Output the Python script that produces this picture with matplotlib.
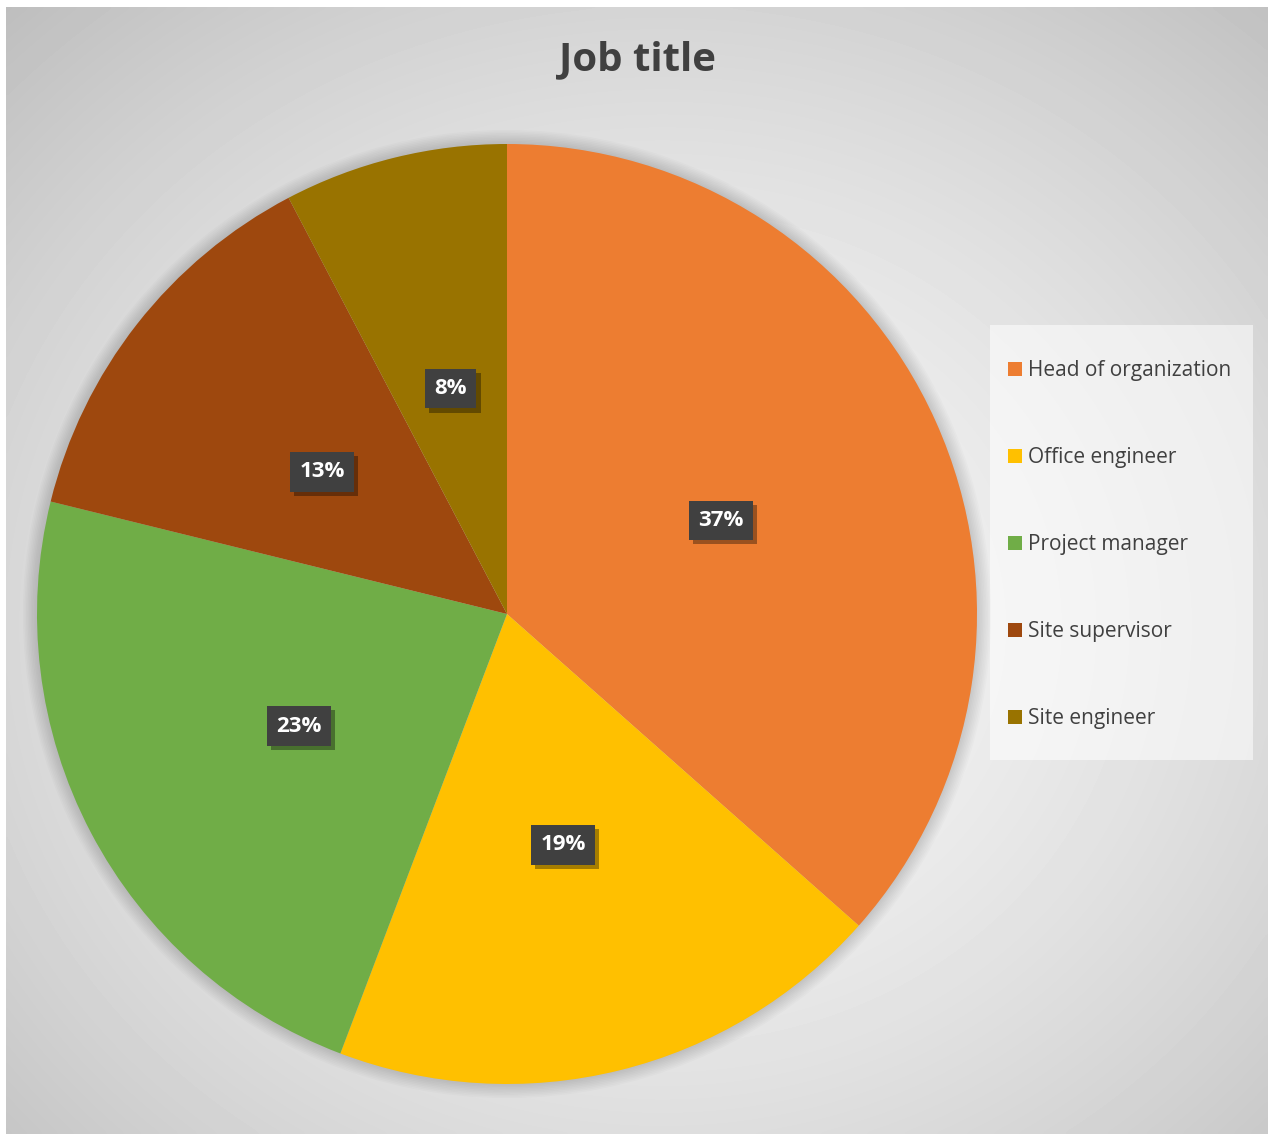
import numpy as np
import matplotlib.pyplot as plt
import matplotlib.patheffects as pe
from matplotlib.patches import Circle, Rectangle

# chart data (respondent counts, shown as rounded percentages)
labels = ['Head of organization', 'Office engineer', 'Project manager',
          'Site supervisor', 'Site engineer']
counts = [19, 10, 12, 7, 4]
colors = ['#ED7D31', '#FFC000', '#70AD47', '#9E480E', '#997300']
title = 'Job title'

plt.rcParams['font.family'] = ['Open Sans', 'DejaVu Sans']

W, H = 1271, 1136
fig = plt.figure(figsize=(W / 100, H / 100), dpi=100)
fig.patch.set_facecolor('white')

# radial grey background of the chart area
bg = fig.add_axes([6 / W, 2 / H, 1262 / W, 1127 / H])
yy, xx = np.mgrid[0:1:300j, 0:1:340j]
r = np.sqrt(((xx - 0.52) / 0.62) ** 2 + ((yy - 0.55) / 0.62) ** 2)
shade = np.clip(0.965 - 0.2 * (r / 1.15) ** 1.6, 0.74, 1)
bg.imshow(shade, cmap='gray', vmin=0, vmax=1, aspect='auto',
          extent=[0, 1, 0, 1], origin='upper', interpolation='bicubic')
bg.set_xlim(0, 1); bg.set_ylim(0, 1)
bg.axis('off')

# legend background box
bg.add_patch(Rectangle((990 / W, 1 - 760 / H), 263 / W, 435 / H,
                       transform=fig.transFigure, facecolor='white',
                       alpha=0.55, linewidth=0, clip_on=False))

# pie axes: centre (507, 614) px, radius 470 px
ax = fig.add_axes([37 / W, (H - 614 - 470) / H, 940 / W, 940 / H])
ax.set_facecolor('none')

# soft halo behind the pie
for rr in np.linspace(1.0, 1.03, 10):
    ax.add_patch(Circle((0, 0), rr, facecolor='black', alpha=0.015,
                        linewidth=0, zorder=0, clip_on=False))

wedges, texts, autotexts = ax.pie(counts, colors=colors, startangle=90,
                                  counterclock=False, radius=1,
                                  autopct='%.0f%%', pctdistance=0.5,
                                  wedgeprops=dict(linewidth=0, zorder=1))
for t in autotexts:
    t.set_color('white')
    t.set_fontsize(16)
    t.set_fontweight('bold')
    t.set_zorder(5)
    t.set_y(t.get_position()[1] - 0.006)
    t.set_bbox(dict(boxstyle='square,pad=0.42', facecolor='#404040',
                    linewidth=0))
    t.get_bbox_patch().set_path_effects(
        [pe.withSimplePatchShadow(offset=(3, -3), shadow_rgbFace='black', alpha=0.35),
         pe.Normal()])
ax.set_xlim(-1, 1); ax.set_ylim(-1, 1)
ax.axis('off')

fig.text(637 / W, 1 - 60 / H, title, ha='center', va='center',
         fontsize=29, fontweight='bold', color='#404040')

leg = ax.legend(wedges, labels, loc='center left',
                bbox_to_anchor=(1008 / W, 1 - 544.5 / H), bbox_transform=fig.transFigure,
                frameon=False, fontsize=15, labelspacing=3.17,
                handlelength=0.67, handleheight=0.67, handletextpad=0.3,
                borderpad=0, borderaxespad=0, labelcolor='#404040')

fig.savefig('out.png', dpi=100, facecolor=fig.get_facecolor())
